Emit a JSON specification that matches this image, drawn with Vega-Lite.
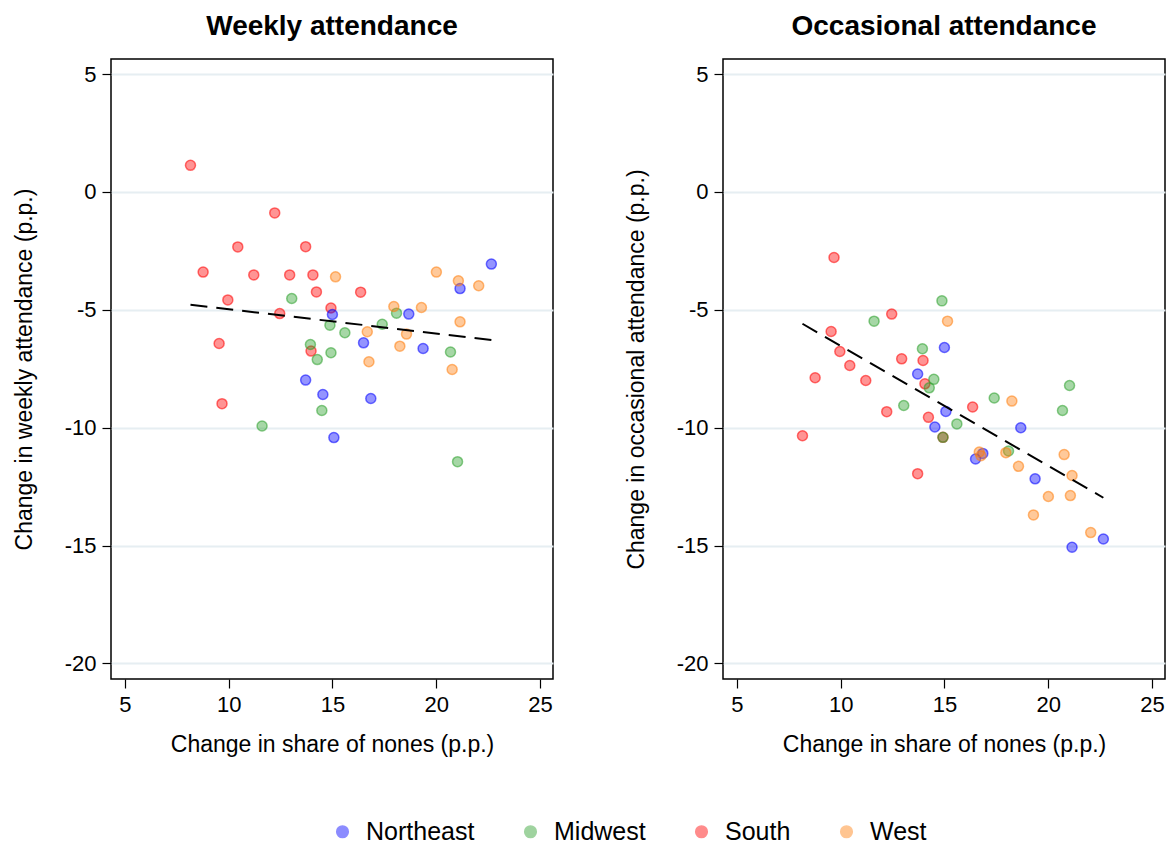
{
  "$schema": "https://vega.github.io/schema/vega-lite/v6.json",
  "background": "white",
  "padding": {"left": 12, "top": 12, "right": 3, "bottom": 5},
  "datasets": {
    "states": [
      {"region": "South", "share": 8.16, "weekly": 1.13, "occasional": -10.34},
      {"region": "South", "share": 12.22, "weekly": -0.89, "occasional": -9.32},
      {"region": "South", "share": 10.44, "weekly": -2.33, "occasional": -7.36},
      {"region": "South", "share": 13.71, "weekly": -2.32, "occasional": -11.95},
      {"region": "South", "share": 8.77, "weekly": -3.40, "occasional": -7.88},
      {"region": "South", "share": 11.21, "weekly": -3.52, "occasional": -8.0},
      {"region": "South", "share": 12.94, "weekly": -3.52, "occasional": -7.08},
      {"region": "South", "share": 14.06, "weekly": -3.52, "occasional": -8.14},
      {"region": "South", "share": 14.23, "weekly": -4.24, "occasional": -9.56},
      {"region": "South", "share": 16.36, "weekly": -4.25, "occasional": -9.12},
      {"region": "South", "share": 9.96, "weekly": -4.58, "occasional": -6.77},
      {"region": "South", "share": 14.93, "weekly": -4.92, "occasional": -10.41},
      {"region": "South", "share": 12.46, "weekly": -5.16, "occasional": -5.18},
      {"region": "South", "share": 13.97, "weekly": -6.75, "occasional": -7.15},
      {"region": "South", "share": 9.54, "weekly": -6.43, "occasional": -5.92},
      {"region": "South", "share": 9.68, "weekly": -8.98, "occasional": -2.78},
      {"region": "Midwest", "share": 13.04, "weekly": -4.52, "occasional": -9.06},
      {"region": "Midwest", "share": 11.61, "weekly": -9.93, "occasional": -5.48},
      {"region": "Midwest", "share": 13.94, "weekly": -6.47, "occasional": -6.65},
      {"region": "Midwest", "share": 14.27, "weekly": -7.11, "occasional": -8.31},
      {"region": "Midwest", "share": 14.49, "weekly": -9.27, "occasional": -7.95},
      {"region": "Midwest", "share": 14.88, "weekly": -5.65, "occasional": -4.62},
      {"region": "Midwest", "share": 14.93, "weekly": -6.82, "occasional": -10.41},
      {"region": "Midwest", "share": 15.60, "weekly": -5.97, "occasional": -9.84},
      {"region": "Midwest", "share": 17.40, "weekly": -5.61, "occasional": -8.74},
      {"region": "Midwest", "share": 18.09, "weekly": -5.14, "occasional": -10.99},
      {"region": "Midwest", "share": 20.69, "weekly": -6.79, "occasional": -9.27},
      {"region": "Midwest", "share": 21.03, "weekly": -11.44, "occasional": -8.21},
      {"region": "Northeast", "share": 13.71, "weekly": -7.98, "occasional": -7.72},
      {"region": "Northeast", "share": 14.54, "weekly": -8.59, "occasional": -9.97},
      {"region": "Northeast", "share": 15.0, "weekly": -5.20, "occasional": -6.60},
      {"region": "Northeast", "share": 15.07, "weekly": -10.42, "occasional": -9.31},
      {"region": "Northeast", "share": 16.50, "weekly": -6.40, "occasional": -11.33},
      {"region": "Northeast", "share": 16.85, "weekly": -8.76, "occasional": -11.09},
      {"region": "Northeast", "share": 18.68, "weekly": -5.18, "occasional": -10.0},
      {"region": "Northeast", "share": 19.37, "weekly": -6.64, "occasional": -12.17},
      {"region": "Northeast", "share": 21.15, "weekly": -4.10, "occasional": -15.07},
      {"region": "Northeast", "share": 22.66, "weekly": -3.06, "occasional": -14.72},
      {"region": "West", "share": 15.15, "weekly": -3.60, "occasional": -5.48},
      {"region": "West", "share": 16.68, "weekly": -5.93, "occasional": -11.03},
      {"region": "West", "share": 16.76, "weekly": -7.20, "occasional": -11.19},
      {"region": "West", "share": 17.96, "weekly": -4.86, "occasional": -11.06},
      {"region": "West", "share": 18.25, "weekly": -6.54, "occasional": -8.87},
      {"region": "West", "share": 18.57, "weekly": -6.03, "occasional": -11.64},
      {"region": "West", "share": 19.29, "weekly": -4.90, "occasional": -13.70},
      {"region": "West", "share": 20.01, "weekly": -3.40, "occasional": -12.92},
      {"region": "West", "share": 20.77, "weekly": -7.53, "occasional": -11.14},
      {"region": "West", "share": 21.07, "weekly": -3.77, "occasional": -12.88},
      {"region": "West", "share": 21.15, "weekly": -5.51, "occasional": -12.03},
      {"region": "West", "share": 22.05, "weekly": -3.98, "occasional": -14.45}
    ]
  },
  "data": {"name": "states"},
  "hconcat": [
    {
      "width": 442,
      "height": 620,
      "title": {"text": "Weekly attendance"},
      "layer": [
        {
          "mark": {"type": "point", "shape": "circle", "filled": true, "size": 100, "fillOpacity": 0.42, "strokeOpacity": 0.55, "strokeWidth": 1.5},
          "encoding": {
            "x": {"field": "share", "type": "quantitative", "scale": {"domain": [4.33, 25.63], "nice": false, "zero": false},
                  "axis": {"values": [5, 10, 15, 20, 25], "title": "Change in share of nones (p.p.)", "grid": false}},
            "y": {"field": "weekly", "type": "quantitative", "scale": {"domain": [-20.66, 5.64], "nice": false, "zero": false},
                  "axis": {"values": [5, 0, -5, -10, -15, -20], "labelExpr": "'' + datum.value", "title": "Change in weekly attendance (p.p.)", "grid": true}},
            "fill": {"field": "region", "type": "nominal", "scale": {"domain": ["Northeast", "Midwest", "South", "West"], "range": ["#0000ff", "#2ca02c", "#ff0000", "#ff7f0e"]}, "legend": {"title": null}},
            "stroke": {"field": "region", "type": "nominal", "scale": {"domain": ["Northeast", "Midwest", "South", "West"], "range": ["#0000ff", "#2ca02c", "#ff0000", "#ff7f0e"]}, "legend": {"title": null}}
          }
        },
        {
          "transform": [{"regression": "weekly", "on": "share"}],
          "mark": {"type": "line", "color": "black", "strokeDash": [17, 9], "strokeWidth": 2},
          "encoding": {
            "x": {"field": "share", "type": "quantitative"},
            "y": {"field": "weekly", "type": "quantitative"}
          }
        }
      ]
    },
    {
      "width": 442,
      "height": 620,
      "title": {"text": "Occasional attendance"},
      "layer": [
        {
          "mark": {"type": "point", "shape": "circle", "filled": true, "size": 100, "fillOpacity": 0.42, "strokeOpacity": 0.55, "strokeWidth": 1.5},
          "encoding": {
            "x": {"field": "share", "type": "quantitative", "scale": {"domain": [4.33, 25.63], "nice": false, "zero": false},
                  "axis": {"values": [5, 10, 15, 20, 25], "title": "Change in share of nones (p.p.)", "grid": false}},
            "y": {"field": "occasional", "type": "quantitative", "scale": {"domain": [-20.66, 5.64], "nice": false, "zero": false},
                  "axis": {"values": [5, 0, -5, -10, -15, -20], "labelExpr": "'' + datum.value", "title": "Change in occasional attendance (p.p.)", "grid": true}},
            "fill": {"field": "region", "type": "nominal", "scale": {"domain": ["Northeast", "Midwest", "South", "West"], "range": ["#0000ff", "#2ca02c", "#ff0000", "#ff7f0e"]}, "legend": {"title": null}},
            "stroke": {"field": "region", "type": "nominal", "scale": {"domain": ["Northeast", "Midwest", "South", "West"], "range": ["#0000ff", "#2ca02c", "#ff0000", "#ff7f0e"]}, "legend": {"title": null}}
          }
        },
        {
          "transform": [{"regression": "occasional", "on": "share"}],
          "mark": {"type": "line", "color": "black", "strokeDash": [17, 9], "strokeWidth": 2},
          "encoding": {
            "x": {"field": "share", "type": "quantitative"},
            "y": {"field": "occasional", "type": "quantitative"}
          }
        }
      ]
    }
  ],
  "spacing": 170,
  "bounds": "flush",
  "config": {
    "font": "Liberation Sans",
    "view": {"stroke": "black", "strokeWidth": 1.5},
    "title": {"fontSize": 28, "fontWeight": "bold", "font": "Liberation Sans", "color": "black", "offset": 18, "anchor": "middle"},
    "axis": {
      "labelFont": "Liberation Sans", "titleFont": "Liberation Sans",
      "labelFontSize": 22, "titleFontSize": 23, "titleFontWeight": "normal",
      "labelColor": "black", "titleColor": "black",
      "domain": false, "tickColor": "black", "tickSize": 9, "tickWidth": 1.2,
      "labelPadding": 6, "gridColor": "#e6eef2", "gridWidth": 2
    },
    "axisX": {"titlePadding": 18},
    "axisY": {"titlePadding": 28, "labelAngle": 0},
    "legend": {
      "orient": "none", "direction": "horizontal", "legendX": 219, "legendY": 760,
      "labelFont": "Liberation Sans", "labelFontSize": 25, "labelColor": "black", "labelLimit": 400,
      "symbolType": "circle", "symbolSize": 135, "symbolStrokeWidth": 1.5,
      "symbolOpacity": 0.45, "labelOffset": 11, "columnPadding": 43
    }
  }
}
